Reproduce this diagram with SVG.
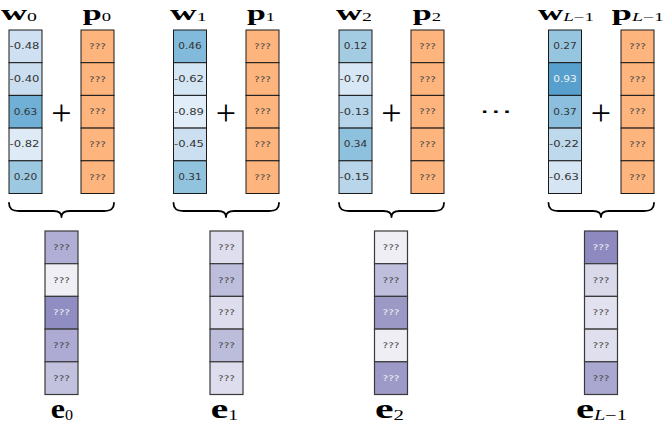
<svg xmlns="http://www.w3.org/2000/svg" width="670" height="427" viewBox="0 0 670 427">
<defs>
<style>
.bg{fill:#ffffff}
.c{stroke:#1a1a1a;stroke-width:1}
.ce{stroke:#3a3a3a;stroke-width:1.2}
.p{fill:#fdb47d}
.v{font-family:"DejaVu Sans",sans-serif;font-size:8.6px;fill:#333333;text-anchor:middle}
.q{font-family:"DejaVu Sans",sans-serif;font-size:7.6px;fill:#444444;text-anchor:middle}
.lt{fill:#f2f2f2}
.lab{font-family:"Liberation Serif",serif;font-size:28px;font-weight:bold;fill:#000000}
.top{font-size:22px}
.sub{font-family:"Liberation Serif",serif;font-size:14px;font-weight:normal}
.top .sub{font-size:12px}
.it{font-style:italic}
.plus{font-family:"Liberation Serif",serif;font-size:36px;fill:#000000;text-anchor:middle}
.brace{fill:none;stroke:#000000;stroke-width:1.8;stroke-linecap:round;stroke-linejoin:round}
</style>
</defs>
<rect class="bg" x="0" y="0" width="670" height="427"/>

<!-- group 0 -->
<g id="w0">
<text class="lab top" x="1" y="19.8" textLength="36" lengthAdjust="spacingAndGlyphs">w<tspan class="sub" dy="1.5">0</tspan></text>
<rect class="c" x="9" y="30" width="33" height="32.7" fill="#cee0f2"/>
<rect class="c" x="9" y="62.7" width="33" height="32.7" fill="#cadef0"/>
<rect class="c" x="9" y="95.4" width="33" height="32.7" fill="#70b0d7"/>
<rect class="c" x="9" y="128.1" width="33" height="32.7" fill="#deebf7"/>
<rect class="c" x="9" y="160.8" width="33" height="32.7" fill="#9cc9e1"/>
<text class="v" x="24.5" y="49.3" textLength="30" lengthAdjust="spacingAndGlyphs">-0.48</text>
<text class="v" x="24.5" y="82" textLength="30" lengthAdjust="spacingAndGlyphs">-0.40</text>
<text class="v" x="25.5" y="114.7" textLength="23.5" lengthAdjust="spacingAndGlyphs">0.63</text>
<text class="v" x="24.5" y="147.4" textLength="30" lengthAdjust="spacingAndGlyphs">-0.82</text>
<text class="v" x="25.5" y="180.1" textLength="23.5" lengthAdjust="spacingAndGlyphs">0.20</text>
</g>
<g id="plus0"><text class="plus" x="61.5" y="124.5">+</text></g>
<g id="p0">
<text class="lab top" x="82.7" y="19.8" textLength="28.3" lengthAdjust="spacingAndGlyphs">p<tspan class="sub" dy="1.5">0</tspan></text>
<rect class="c p" x="81" y="30" width="33" height="32.7"/>
<rect class="c p" x="81" y="62.7" width="33" height="32.7"/>
<rect class="c p" x="81" y="95.4" width="33" height="32.7"/>
<rect class="c p" x="81" y="128.1" width="33" height="32.7"/>
<rect class="c p" x="81" y="160.8" width="33" height="32.7"/>
<text class="q" x="97.5" y="48.8" textLength="17" lengthAdjust="spacingAndGlyphs">???</text>
<text class="q" x="97.5" y="81.5" textLength="17" lengthAdjust="spacingAndGlyphs">???</text>
<text class="q" x="97.5" y="114.2" textLength="17" lengthAdjust="spacingAndGlyphs">???</text>
<text class="q" x="97.5" y="146.9" textLength="17" lengthAdjust="spacingAndGlyphs">???</text>
<text class="q" x="97.5" y="179.6" textLength="17" lengthAdjust="spacingAndGlyphs">???</text>
</g>
<g id="e0">
<rect class="ce" x="45" y="231" width="33" height="32.7" fill="#b0aed4"/>
<rect class="ce" x="45" y="263.7" width="33" height="32.7" fill="#f0eff6"/>
<rect class="ce" x="45" y="296.4" width="33" height="32.7" fill="#908dc2"/>
<rect class="ce" x="45" y="329.1" width="33" height="32.7" fill="#adabd3"/>
<rect class="ce" x="45" y="361.8" width="33" height="32.7" fill="#c2c2df"/>
<text class="q" x="61.5" y="249.8" textLength="17" lengthAdjust="spacingAndGlyphs">???</text>
<text class="q" x="61.5" y="282.5" textLength="17" lengthAdjust="spacingAndGlyphs">???</text>
<text class="q lt" x="61.5" y="315.2" textLength="17" lengthAdjust="spacingAndGlyphs">???</text>
<text class="q" x="61.5" y="347.9" textLength="17" lengthAdjust="spacingAndGlyphs">???</text>
<text class="q" x="61.5" y="380.6" textLength="17" lengthAdjust="spacingAndGlyphs">???</text>
<text class="lab" x="50.7" y="418" textLength="22.3" lengthAdjust="spacingAndGlyphs">e<tspan class="sub" dy="1.5">0</tspan></text>
</g>

<!-- group 1 -->
<g id="w1">
<text class="lab top" x="170" y="19.8" textLength="36.7" lengthAdjust="spacingAndGlyphs">w<tspan class="sub" dy="1.5">1</tspan></text>
<rect class="c" x="173.5" y="30" width="33" height="32.7" fill="#81badb"/>
<rect class="c" x="173.5" y="62.7" width="33" height="32.7" fill="#d4e5f4"/>
<rect class="c" x="173.5" y="95.4" width="33" height="32.7" fill="#e1edf8"/>
<rect class="c" x="173.5" y="128.1" width="33" height="32.7" fill="#ccdff1"/>
<rect class="c" x="173.5" y="160.8" width="33" height="32.7" fill="#91c3de"/>
<text class="v" x="190" y="49.3" textLength="23.5" lengthAdjust="spacingAndGlyphs">0.46</text>
<text class="v" x="189" y="82" textLength="30" lengthAdjust="spacingAndGlyphs">-0.62</text>
<text class="v" x="189" y="114.7" textLength="30" lengthAdjust="spacingAndGlyphs">-0.89</text>
<text class="v" x="189" y="147.4" textLength="30" lengthAdjust="spacingAndGlyphs">-0.45</text>
<text class="v" x="190" y="180.1" textLength="23.5" lengthAdjust="spacingAndGlyphs">0.31</text>
</g>
<g id="plus1"><text class="plus" x="226" y="124.5">+</text></g>
<g id="p1">
<text class="lab top" x="247" y="19.8" textLength="28" lengthAdjust="spacingAndGlyphs">p<tspan class="sub" dy="1.5">1</tspan></text>
<rect class="c p" x="246" y="30" width="33" height="32.7"/>
<rect class="c p" x="246" y="62.7" width="33" height="32.7"/>
<rect class="c p" x="246" y="95.4" width="33" height="32.7"/>
<rect class="c p" x="246" y="128.1" width="33" height="32.7"/>
<rect class="c p" x="246" y="160.8" width="33" height="32.7"/>
<text class="q" x="262.5" y="48.8" textLength="17" lengthAdjust="spacingAndGlyphs">???</text>
<text class="q" x="262.5" y="81.5" textLength="17" lengthAdjust="spacingAndGlyphs">???</text>
<text class="q" x="262.5" y="114.2" textLength="17" lengthAdjust="spacingAndGlyphs">???</text>
<text class="q" x="262.5" y="146.9" textLength="17" lengthAdjust="spacingAndGlyphs">???</text>
<text class="q" x="262.5" y="179.6" textLength="17" lengthAdjust="spacingAndGlyphs">???</text>
</g>
<g id="e1">
<rect class="ce" x="210" y="231" width="33" height="32.7" fill="#dfdeee"/>
<rect class="ce" x="210" y="263.7" width="33" height="32.7" fill="#bdbddc"/>
<rect class="ce" x="210" y="296.4" width="33" height="32.7" fill="#dedded"/>
<rect class="ce" x="210" y="329.1" width="33" height="32.7" fill="#bcbcdb"/>
<rect class="ce" x="210" y="361.8" width="33" height="32.7" fill="#dedded"/>
<text class="q" x="226.5" y="249.8" textLength="17" lengthAdjust="spacingAndGlyphs">???</text>
<text class="q" x="226.5" y="282.5" textLength="17" lengthAdjust="spacingAndGlyphs">???</text>
<text class="q" x="226.5" y="315.2" textLength="17" lengthAdjust="spacingAndGlyphs">???</text>
<text class="q" x="226.5" y="347.9" textLength="17" lengthAdjust="spacingAndGlyphs">???</text>
<text class="q" x="226.5" y="380.6" textLength="17" lengthAdjust="spacingAndGlyphs">???</text>
<text class="lab" x="210.7" y="418" textLength="27.3" lengthAdjust="spacingAndGlyphs">e<tspan class="sub" dy="1.5">1</tspan></text>
</g>

<!-- group 2 -->
<g id="w2">
<text class="lab top" x="336" y="19.8" textLength="36" lengthAdjust="spacingAndGlyphs">w<tspan class="sub" dy="1.5">2</tspan></text>
<rect class="c" x="339" y="30" width="33" height="32.7" fill="#a3cce3"/>
<rect class="c" x="339" y="62.7" width="33" height="32.7" fill="#d8e7f5"/>
<rect class="c" x="339" y="95.4" width="33" height="32.7" fill="#b7d5ea"/>
<rect class="c" x="339" y="128.1" width="33" height="32.7" fill="#8ec1dd"/>
<rect class="c" x="339" y="160.8" width="33" height="32.7" fill="#b8d5ea"/>
<text class="v" x="355.5" y="49.3" textLength="23.5" lengthAdjust="spacingAndGlyphs">0.12</text>
<text class="v" x="354.5" y="82" textLength="30" lengthAdjust="spacingAndGlyphs">-0.70</text>
<text class="v" x="354.5" y="114.7" textLength="30" lengthAdjust="spacingAndGlyphs">-0.13</text>
<text class="v" x="355.5" y="147.4" textLength="23.5" lengthAdjust="spacingAndGlyphs">0.34</text>
<text class="v" x="354.5" y="180.1" textLength="30" lengthAdjust="spacingAndGlyphs">-0.15</text>
</g>
<g id="plus2"><text class="plus" x="391.5" y="124.5">+</text></g>
<g id="p2">
<text class="lab top" x="412.7" y="19.8" textLength="28.3" lengthAdjust="spacingAndGlyphs">p<tspan class="sub" dy="1.5">2</tspan></text>
<rect class="c p" x="411" y="30" width="33" height="32.7"/>
<rect class="c p" x="411" y="62.7" width="33" height="32.7"/>
<rect class="c p" x="411" y="95.4" width="33" height="32.7"/>
<rect class="c p" x="411" y="128.1" width="33" height="32.7"/>
<rect class="c p" x="411" y="160.8" width="33" height="32.7"/>
<text class="q" x="427.5" y="48.8" textLength="17" lengthAdjust="spacingAndGlyphs">???</text>
<text class="q" x="427.5" y="81.5" textLength="17" lengthAdjust="spacingAndGlyphs">???</text>
<text class="q" x="427.5" y="114.2" textLength="17" lengthAdjust="spacingAndGlyphs">???</text>
<text class="q" x="427.5" y="146.9" textLength="17" lengthAdjust="spacingAndGlyphs">???</text>
<text class="q" x="427.5" y="179.6" textLength="17" lengthAdjust="spacingAndGlyphs">???</text>
</g>
<g id="e2">
<rect class="ce" x="374.5" y="231" width="33" height="32.7" fill="#efeef5"/>
<rect class="ce" x="374.5" y="263.7" width="33" height="32.7" fill="#bfbfdd"/>
<rect class="ce" x="374.5" y="296.4" width="33" height="32.7" fill="#9d99c7"/>
<rect class="ce" x="374.5" y="329.1" width="33" height="32.7" fill="#efeef5"/>
<rect class="ce" x="374.5" y="361.8" width="33" height="32.7" fill="#9e9ac8"/>
<text class="q" x="391" y="249.8" textLength="17" lengthAdjust="spacingAndGlyphs">???</text>
<text class="q" x="391" y="282.5" textLength="17" lengthAdjust="spacingAndGlyphs">???</text>
<text class="q lt" x="391" y="315.2" textLength="17" lengthAdjust="spacingAndGlyphs">???</text>
<text class="q" x="391" y="347.9" textLength="17" lengthAdjust="spacingAndGlyphs">???</text>
<text class="q lt" x="391" y="380.6" textLength="17" lengthAdjust="spacingAndGlyphs">???</text>
<text class="lab" x="375" y="418" textLength="29" lengthAdjust="spacingAndGlyphs">e<tspan class="sub" dy="1.5">2</tspan></text>
</g>

<g id="ellipsis"><text x="496" y="118" font-family="DejaVu Sans, sans-serif" font-size="20" text-anchor="middle" textLength="33" lengthAdjust="spacingAndGlyphs">⋯</text></g>

<!-- group L-1 -->
<g id="wL">
<text class="lab top" x="538" y="19.8" textLength="56" lengthAdjust="spacingAndGlyphs">w<tspan class="sub it" dy="1.5">L</tspan><tspan class="sub">−1</tspan></text>
<rect class="c" x="548.5" y="30" width="33" height="32.7" fill="#95c5df"/>
<rect class="c" x="548.5" y="62.7" width="33" height="32.7" fill="#57a0ce"/>
<rect class="c" x="548.5" y="95.4" width="33" height="32.7" fill="#8bbfdd"/>
<rect class="c" x="548.5" y="128.1" width="33" height="32.7" fill="#bed8ec"/>
<rect class="c" x="548.5" y="160.8" width="33" height="32.7" fill="#d5e5f4"/>
<text class="v" x="565" y="49.3" textLength="23.5" lengthAdjust="spacingAndGlyphs">0.27</text>
<text class="v lt" x="565" y="82" textLength="23.5" lengthAdjust="spacingAndGlyphs">0.93</text>
<text class="v" x="565" y="114.7" textLength="23.5" lengthAdjust="spacingAndGlyphs">0.37</text>
<text class="v" x="564" y="147.4" textLength="30" lengthAdjust="spacingAndGlyphs">-0.22</text>
<text class="v" x="564" y="180.1" textLength="30" lengthAdjust="spacingAndGlyphs">-0.63</text>
</g>
<g id="plusL"><text class="plus" x="601" y="124.5">+</text></g>
<g id="pL">
<text class="lab top" x="611.7" y="19.8" textLength="52.3" lengthAdjust="spacingAndGlyphs">p<tspan class="sub it" dy="1.5">L</tspan><tspan class="sub">−1</tspan></text>
<rect class="c p" x="621" y="30" width="33" height="32.7"/>
<rect class="c p" x="621" y="62.7" width="33" height="32.7"/>
<rect class="c p" x="621" y="95.4" width="33" height="32.7"/>
<rect class="c p" x="621" y="128.1" width="33" height="32.7"/>
<rect class="c p" x="621" y="160.8" width="33" height="32.7"/>
<text class="q" x="637.5" y="48.8" textLength="17" lengthAdjust="spacingAndGlyphs">???</text>
<text class="q" x="637.5" y="81.5" textLength="17" lengthAdjust="spacingAndGlyphs">???</text>
<text class="q" x="637.5" y="114.2" textLength="17" lengthAdjust="spacingAndGlyphs">???</text>
<text class="q" x="637.5" y="146.9" textLength="17" lengthAdjust="spacingAndGlyphs">???</text>
<text class="q" x="637.5" y="179.6" textLength="17" lengthAdjust="spacingAndGlyphs">???</text>
</g>
<g id="eL">
<rect class="ce" x="584.5" y="231" width="33" height="32.7" fill="#8e8ac0"/>
<rect class="ce" x="584.5" y="263.7" width="33" height="32.7" fill="#d9d9ea"/>
<rect class="ce" x="584.5" y="296.4" width="33" height="32.7" fill="#e2e1ef"/>
<rect class="ce" x="584.5" y="329.1" width="33" height="32.7" fill="#dfdfee"/>
<rect class="ce" x="584.5" y="361.8" width="33" height="32.7" fill="#aaa8d1"/>
<text class="q lt" x="601" y="249.8" textLength="17" lengthAdjust="spacingAndGlyphs">???</text>
<text class="q" x="601" y="282.5" textLength="17" lengthAdjust="spacingAndGlyphs">???</text>
<text class="q" x="601" y="315.2" textLength="17" lengthAdjust="spacingAndGlyphs">???</text>
<text class="q" x="601" y="347.9" textLength="17" lengthAdjust="spacingAndGlyphs">???</text>
<text class="q" x="601" y="380.6" textLength="17" lengthAdjust="spacingAndGlyphs">???</text>
<text class="lab" x="576" y="418" textLength="51" lengthAdjust="spacingAndGlyphs">e<tspan class="sub it" dy="1.5">L</tspan><tspan class="sub">−1</tspan></text>
</g>

<g id="connectors">
<path class="brace" d="M9,203 C9,209 12,211 19,211 L53.5,211 C58.5,211 61.5,213 61.5,217 C61.5,213 64.5,211 69.5,211 L104,211 C111,211 114,209 114,203"/>
<path class="brace" d="M173.5,203 C173.5,209 176.5,211 183.5,211 L218,211 C223,211 226,213 226,217 C226,213 229,211 234,211 L269,211 C276,211 279,209 279,203"/>
<path class="brace" d="M339,203 C339,209 342,211 349,211 L383.5,211 C388.5,211 391.5,213 391.5,217 C391.5,213 394.5,211 399.5,211 L434,211 C441,211 444,209 444,203"/>
<path class="brace" d="M548.5,203 C548.5,209 551.5,211 558.5,211 L593,211 C598,211 601,213 601,217 C601,213 604,211 609,211 L644,211 C651,211 654,209 654,203"/>
</g>
</svg>
